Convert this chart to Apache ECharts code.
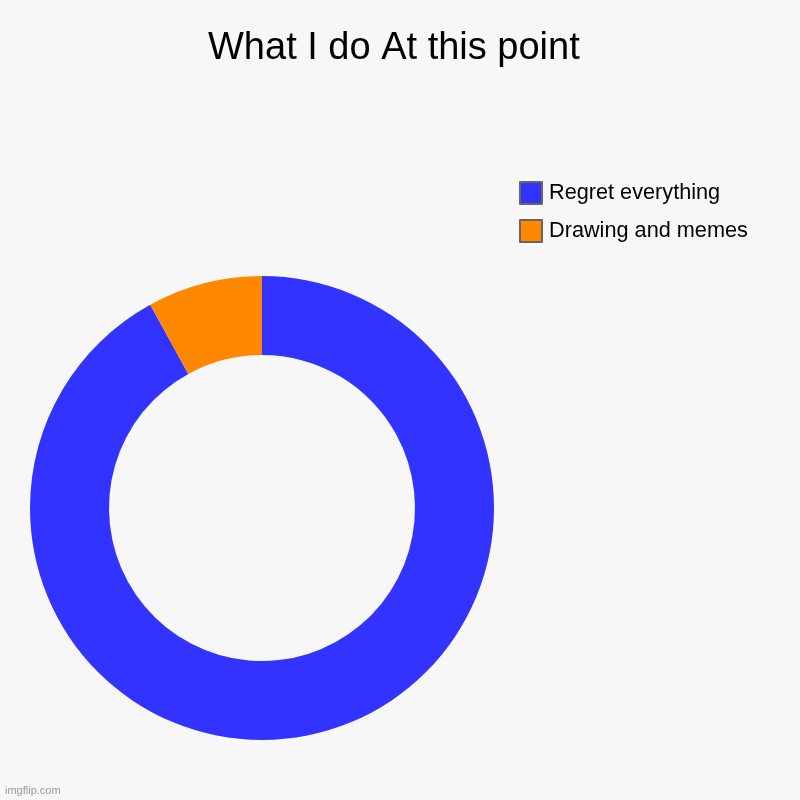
<!DOCTYPE html>
<html>
<head>
<meta charset="utf-8">
<script src="https://cdn.jsdelivr.net/npm/echarts@6/dist/echarts.min.js"></script>
<style>
  html, body { margin: 0; padding: 0; background: #f7f7f7; }
  #chart { width: 800px; height: 800px; }
</style>
</head>
<body>
<div id="chart"></div>
<script>
var categories = ['Regret everything', 'Drawing and memes'];
var values = [92, 8];
var colors = ['#3333ff', '#ff8800'];

var myChart = echarts.init(document.getElementById('chart'));

var option = {
    backgroundColor: '#f7f7f7',
    animation: false,
    title: {
        text: 'What I do At this point',
        left: 208,
        top: 30,
        padding: 0,
        textStyle: {
            fontFamily: 'Liberation Sans, Arial, sans-serif',
            fontSize: 38,
            fontWeight: 'normal',
            color: '#000'
        }
    },
    legend: {
        orient: 'vertical',
        left: 519,
        top: 181,
        padding: 0,
        icon: 'rect',
        itemWidth: 22,
        itemHeight: 22,
        itemGap: 14,
        data: categories,
        itemStyle: {
            borderColor: '#666',
            borderWidth: 2
        },
        textStyle: {
            fontFamily: 'Liberation Sans, Arial, sans-serif',
            fontSize: 21.7,
            color: '#000',
            padding: [0, 0, 0, 2]
        }
    },
    graphic: [{
        type: 'text',
        left: 5,
        top: 785,
        style: {
            text: 'imgflip.com',
            fontFamily: 'Liberation Sans, Arial, sans-serif',
            fontSize: 11,
            fill: '#999'
        }
    }],
    series: [{
        type: 'pie',
        center: [262, 508],
        radius: [153, 232],
        startAngle: 90,
        clockwise: true,
        label: { show: false },
        labelLine: { show: false },
        emphasis: { disabled: true },
        data: categories.map(function (name, i) {
            return { name: name, value: values[i], itemStyle: { color: colors[i] } };
        })
    }]
};

myChart.setOption(option);
</script>
</body>
</html>
